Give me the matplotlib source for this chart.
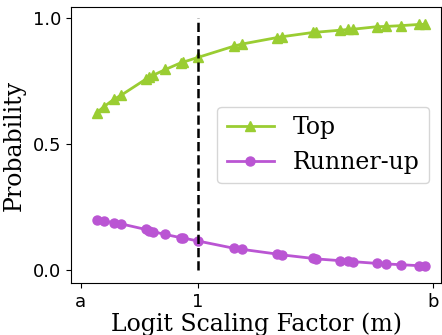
import matplotlib
matplotlib.use('Agg')
import matplotlib.pyplot as plt
import numpy as np

# logit scaling factor values (a=0.5, b=2)
m_vals = [0.568, 0.599, 0.641, 0.673, 0.777, 0.790, 0.809, 0.861, 0.928, 0.936,
          1.0, 1.154, 1.187, 1.338, 1.357, 1.489, 1.503, 1.605, 1.640, 1.661,
          1.763, 1.800, 1.863, 1.942, 1.966]
top_prob = [0.624, 0.648, 0.677, 0.694, 0.757, 0.765, 0.773, 0.796, 0.823, 0.825,
            0.844, 0.889, 0.897, 0.923, 0.926, 0.943, 0.944, 0.952, 0.955, 0.956,
            0.966, 0.967, 0.970, 0.975, 0.975]
runner_prob = [0.198, 0.194, 0.188, 0.183, 0.161, 0.156, 0.152, 0.141, 0.128, 0.127,
               0.115, 0.086, 0.082, 0.063, 0.060, 0.046, 0.044, 0.037, 0.034, 0.033,
               0.026, 0.024, 0.021, 0.017, 0.017]
xtick_vals = [0.5, 1.0, 2.0]
xtick_labels = ['a', '1', 'b']
ytick_vals = [0.0, 0.5, 1.0]

fig, ax = plt.subplots(figsize=(4.42, 3.35), dpi=100)
fig.subplots_adjust(left=0.161, right=0.998, top=0.979, bottom=0.155)

ax.plot(m_vals, top_prob, '-^', color='yellowgreen', lw=2, ms=7.5, label='Top')
ax.plot(m_vals, runner_prob, '-o', color='mediumorchid', lw=2, ms=6.5, label='Runner-up')
ax.vlines(1.0, 0.0, 1.0, colors='black', linestyles='--', lw=1.8)

ax.set_xlim(0.46, 2.035)
ax.set_ylim(-0.052, 1.044)
ax.set_xticks(xtick_vals)
ax.set_xticklabels(xtick_labels)
ax.set_yticks(ytick_vals)
ax.tick_params(labelsize=13)

ax.set_xlabel('Logit Scaling Factor (m)', family='DejaVu Serif', fontsize=17, labelpad=1)
ax.set_ylabel('Probability', family='DejaVu Serif', fontsize=17, labelpad=5)
ax.legend(loc='center right', prop={'family': 'DejaVu Serif', 'size': 17})

fig.savefig('out.png', dpi=100)
